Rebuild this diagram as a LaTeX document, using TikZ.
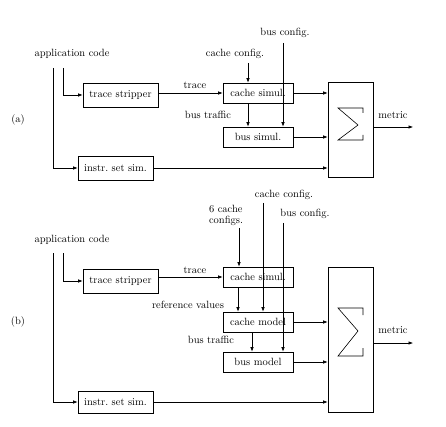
\documentclass[tikz,border=0pt]{standalone}
\usetikzlibrary{positioning, arrows.meta, calc}
\tikzset{
  blk/.style={draw, minimum height=20pt, inner sep=2pt},
  lbl/.style={inner sep=0pt},
  arr/.style={-{Latex[length=4.5pt,width=3.5pt]}},
}

\begin{document}
\begin{tikzpicture}[x=1pt, y=-1pt, font=\fontsize{10.5}{11}\selectfont, line width=0.6pt]
\useasboundingbox (0,0) rectangle (446,427);

% (a) simulation chain
\node[lbl] (appa) at (72,54) {application code};
\node[lbl] (taga) at (18,120) {(a)};
\node[blk, minimum width=75pt, minimum height=24pt] (strpa) at (120.5,95) {trace stripper};
\node[blk, minimum width=75pt, minimum height=24pt] (isa) at (115.5,168) {instr.\ set sim.};
\node[blk, minimum width=70pt] (csima) at (258,93) {cache simul.};
\node[blk, minimum width=70pt] (bsima) at (258,137) {bus simul.};
\node[blk, minimum width=45pt, minimum height=95pt] (suma) at (350.5,129.5) {};
\node[lbl] (cfga) at (235,54) {cache config.};
\node[lbl] (bcfga) at (285,33) {bus config.};
\node[lbl] (trca) at (195,85) {trace};
\node[lbl] (btra) at (208,115) {bus traffic};
\node[lbl] (mtra) at (393,115) {metric};
\coordinate (a1) at (53,68);
\coordinate (a2) at (63,68);
\coordinate (ca) at (248,63);
\coordinate (ba) at (283,43);
\coordinate (outa) at (413,127);

\draw (363,113) -- (363,108) -- (338,108) -- (358,125) -- (338,140) -- (363,140) -- (363,135);

\draw[arr] (a1) |- (isa.west);
\draw[arr] (a2) |- (strpa.west);
\draw[arr] (strpa.east |- csima.west) -- (csima.west);
\draw[arr] (ca) -- (ca |- csima.north);
\draw[arr] (ba) -- (ba |- bsima.north);
\draw[arr] ([xshift=-10pt]csima.south) -- ([xshift=-10pt]csima.south |- bsima.north);
\draw[arr] (csima.east) -- (csima.east -| suma.west);
\draw[arr] (bsima.east) -- (bsima.east -| suma.west);
\draw[arr] (isa.east) -- (isa.east -| suma.west);
\draw[arr] (suma.east |- outa) -- (outa);

% (b) simulation plus models
\node[lbl] (appb) at (72,240) {application code};
\node[lbl] (tagb) at (18,322) {(b)};
\node[blk, minimum width=75pt, minimum height=24pt] (strpb) at (120.5,281) {trace stripper};
\node[blk, minimum width=75pt, minimum height=22pt] (isb) at (115.5,402) {instr.\ set sim.};
\node[blk, minimum width=70pt] (csimb) at (258,277) {cache simul.};
\node[blk, minimum width=70pt] (cmodb) at (258,322) {cache model};
\node[blk, minimum width=70pt] (bmodb) at (258,362) {bus model};
\node[blk, minimum width=45pt, minimum height=145pt] (sumb) at (350.5,339.5) {};
\node[lbl, align=left] (cfgsb) at (226,215) {6 cache\\configs.};
\node[lbl] (cfgb) at (284,195) {cache config.};
\node[lbl] (bcfgb) at (305,214) {bus config.};
\node[lbl] (trcb) at (195,270) {trace};
\node[lbl] (refb) at (188,305) {reference values};
\node[lbl] (btrb) at (211,340) {bus traffic};
\node[lbl] (mtrb) at (393,330) {metric};
\coordinate (b1) at (53,253);
\coordinate (b2) at (63,253);
\coordinate (cs) at (239,228);
\coordinate (cb) at (263,203);
\coordinate (bb) at (283,223);
\coordinate (outb) at (413,343);

\draw (363,315) -- (363,308) -- (338,308) -- (358,331) -- (338,356) -- (363,356) -- (363,348);

\draw[arr] (b1) |- (isb.west);
\draw[arr] (b2) |- (strpb.west);
\draw[arr] (strpb.east |- csimb.west) -- (csimb.west);
\draw[arr] (cs) -- (cs |- csimb.north);
\draw[arr] (cb) -- (cb |- cmodb.north);
\draw[arr] (bb) -- (bb |- bmodb.north);
\draw[arr] ([xshift=-20pt]csimb.south) -- ([xshift=-20pt]csimb.south |- cmodb.north);
\draw[arr] ([xshift=-6pt]cmodb.south) -- ([xshift=-6pt]cmodb.south |- bmodb.north);
\draw[arr] (cmodb.east) -- (cmodb.east -| sumb.west);
\draw[arr] (bmodb.east) -- (bmodb.east -| sumb.west);
\draw[arr] (isb.east) -- (isb.east -| sumb.west);
\draw[arr] (sumb.east |- outb) -- (outb);
\end{tikzpicture}
\end{document}
